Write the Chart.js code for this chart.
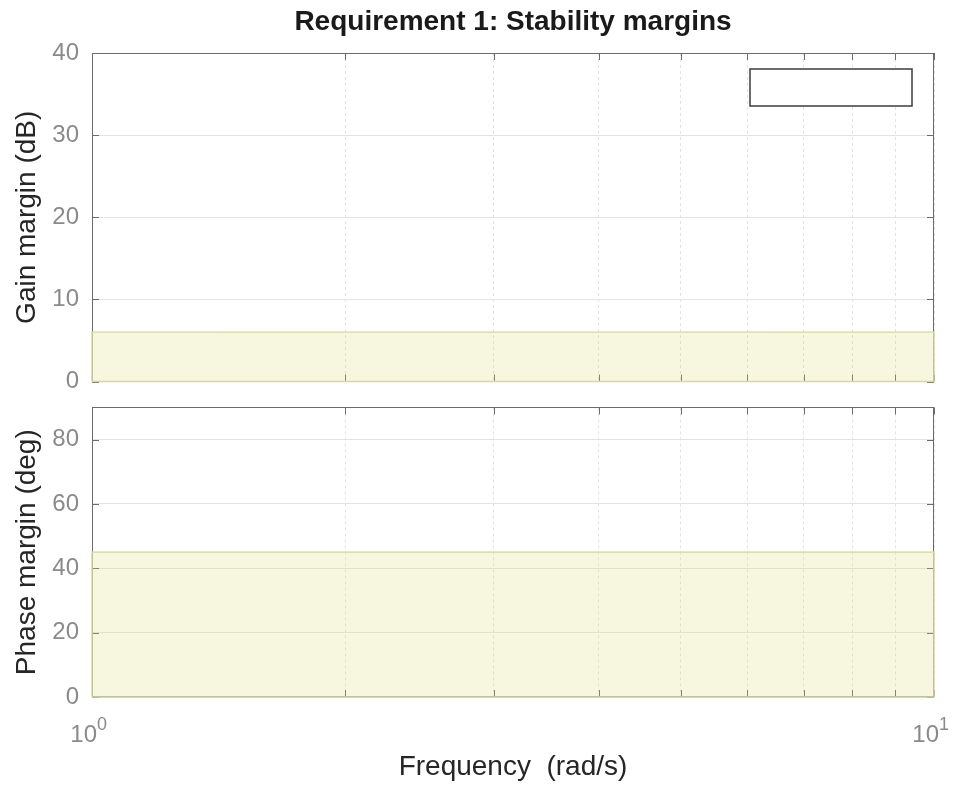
<!DOCTYPE html>
<html>
<head>
<meta charset="utf-8">
<script src="https://cdn.jsdelivr.net/npm/chart.js@4.4.1/dist/chart.umd.min.js"></script>
<style>
  body { margin: 0; background: #fff; }
  #wrap { position: relative; width: 955px; height: 785px; overflow: hidden; }
  canvas { position: absolute; left: 0; }
</style>
</head>
<body>
<div id="wrap">
  <canvas id="gain_chart" width="955" height="409" style="top:0"></canvas>
  <canvas id="phase_chart" width="955" height="405" style="top:380px"></canvas>
</div>
<script>
// frequency axis (rad/s)
var freqRange = [1, 10];
var freqTicks = [1, 2, 3, 4, 5, 6, 7, 8, 9, 10];
var decadeLabels = [1, 10];

// gain margin requirement (dB)
var gainRange = [0, 40];
var gainTicks = [0, 10, 20, 30, 40];
var gainBound = [6, 6];

// phase margin requirement (deg)
var phaseRange = [0, 90];
var phaseTicks = [0, 20, 40, 60, 80];
var phaseBound = [45, 45];

var FONT = "'Liberation Sans', Arial, Helvetica, sans-serif";
var frameColor = "#6b6b6b";
var tickColor = "#8a8a8a";
var gridColor = "#e3e3e3";

var ctx_gain = document.getElementById("gain_chart");
var ctx_phase = document.getElementById("phase_chart");

// outline of the requirement region (edges drawn over the frame)
function boundOutline(bound) {
    return [
        {x: freqRange[0], y: 0},
        {x: freqRange[0], y: bound[0]},
        {x: freqRange[1], y: bound[1]},
        {x: freqRange[1], y: 0},
        {x: freqRange[0], y: 0}
    ];
}

var framePlugin = {
    id: 'frame',
    beforeDatasetsDraw: function(chart) {
        var ctx = chart.ctx, a = chart.chartArea;
        var xs = chart.scales.x, ys = chart.scales.y;
        ctx.save();
        ctx.strokeStyle = frameColor;
        ctx.lineWidth = 1;
        ctx.strokeRect(Math.round(a.left) + 0.5, Math.round(a.top) + 0.5,
            Math.round(a.width) - 1, Math.round(a.height) - 1);
        ctx.beginPath();
        xs.ticks.forEach(function(t) {
            var px = Math.round(xs.getPixelForValue(t.value)) + 0.5;
            ctx.moveTo(px, a.top); ctx.lineTo(px, a.top + 7);
            ctx.moveTo(px, a.bottom); ctx.lineTo(px, a.bottom - 7);
        });
        ys.ticks.forEach(function(t) {
            var py = Math.round(ys.getPixelForValue(t.value)) + 0.5;
            ctx.moveTo(a.left, py); ctx.lineTo(a.left + 7, py);
            ctx.moveTo(a.right, py); ctx.lineTo(a.right - 7, py);
        });
        ctx.stroke();
        ctx.restore();
    },
    afterDraw: function(chart) {
        var opts = chart.options.plugins.frame || {};
        var ctx = chart.ctx, a = chart.chartArea;
        ctx.save();
        if (opts.legendBox) {
            // empty legend box, top right corner
            ctx.fillStyle = "#fff";
            ctx.strokeStyle = "#3c3c3c";
            ctx.lineWidth = 1.5;
            ctx.fillRect(a.right - 184, a.top + 16, 162, 37);
            ctx.strokeRect(a.right - 184, a.top + 16, 162, 37);
        }
        if (opts.decades) {
            var xs = chart.scales.x;
            ctx.fillStyle = tickColor;
            ctx.textBaseline = "alphabetic";
            decadeLabels.forEach(function(v) {
                var px = xs.getPixelForValue(v);
                ctx.font = "24px " + FONT;
                ctx.textAlign = "right";
                ctx.fillText("10", px + 5, a.bottom + 45);
                ctx.font = "18px " + FONT;
                ctx.textAlign = "left";
                ctx.fillText(String(Math.round(Math.log10(v))), px + 5, a.bottom + 33);
            });
        }
        ctx.restore();
    }
};

function makeOptions(yRange, yTicks, yTitle, isBottom) {
    return {
        responsive: false,
        animation: false,
        layout: { padding: { left: 0, right: 21, top: 0, bottom: 0 } },
        plugins: {
            legend: { display: false },
            tooltip: { enabled: false },
            frame: { legendBox: !isBottom, decades: isBottom }
        },
        scales: {
            x: {
                type: "logarithmic",
                position: isBottom ? "bottom" : "top",
                min: freqRange[0],
                max: freqRange[1],
                afterBuildTicks: function(s) { s.ticks = freqTicks.map(function(v) { return {value: v}; }); },
                afterFit: function(s) { s.height = isBottom ? 88 : 53; },
                grid: { color: gridColor, drawTicks: false, lineWidth: 1 },
                border: { display: false, dash: [3, 3] },
                ticks: { display: false },
                title: isBottom ? {
                    display: true,
                    text: "Frequency  (rad/s)",
                    color: "#262626",
                    font: { family: FONT, size: 28 },
                    padding: { top: 0, bottom: 1 }
                } : {
                    display: true,
                    text: "Requirement 1: Stability margins",
                    color: "#1a1a1a",
                    font: { family: FONT, size: 28, weight: "bold" },
                    padding: { top: 5, bottom: 0 }
                }
            },
            y: {
                min: yRange[0],
                max: yRange[1],
                afterBuildTicks: function(s) { s.ticks = yTicks.map(function(v) { return {value: v}; }); },
                afterFit: function(s) { s.width = 92; },
                grid: { color: gridColor, drawTicks: false, lineWidth: 1 },
                border: { display: false },
                ticks: {
                    color: tickColor,
                    padding: 13,
                    font: { family: FONT, size: 24 }
                },
                title: {
                    display: true,
                    text: yTitle,
                    color: "#262626",
                    font: { family: FONT, size: 28 },
                    padding: { top: 10, bottom: 0 }
                }
            }
        }
    };
}

function boundDatasets(bound) {
    return [{
        // shaded region below the requirement line
        data: [{x: freqRange[0], y: bound[0]}, {x: freqRange[1], y: bound[1]}],
        fill: "origin",
        backgroundColor: "rgba(220,220,120,0.23)",
        borderColor: "rgb(226,226,180)",
        borderWidth: 1,
        pointRadius: 0,
        tension: 0
    }, {
        data: boundOutline(bound),
        fill: false,
        borderColor: "rgb(214,214,170)",
        borderWidth: 1.5,
        pointRadius: 0,
        tension: 0,
        clip: 4
    }];
}

var gainChart = new Chart(ctx_gain, {
    type: "line",
    data: { datasets: boundDatasets(gainBound) },
    options: makeOptions(gainRange, gainTicks, "Gain margin (dB)", false),
    plugins: [framePlugin]
});

var phaseChart = new Chart(ctx_phase, {
    type: "line",
    data: { datasets: boundDatasets(phaseBound) },
    options: makeOptions(phaseRange, phaseTicks, "Phase margin (deg)", true),
    plugins: [framePlugin]
});
</script>
</body>
</html>
